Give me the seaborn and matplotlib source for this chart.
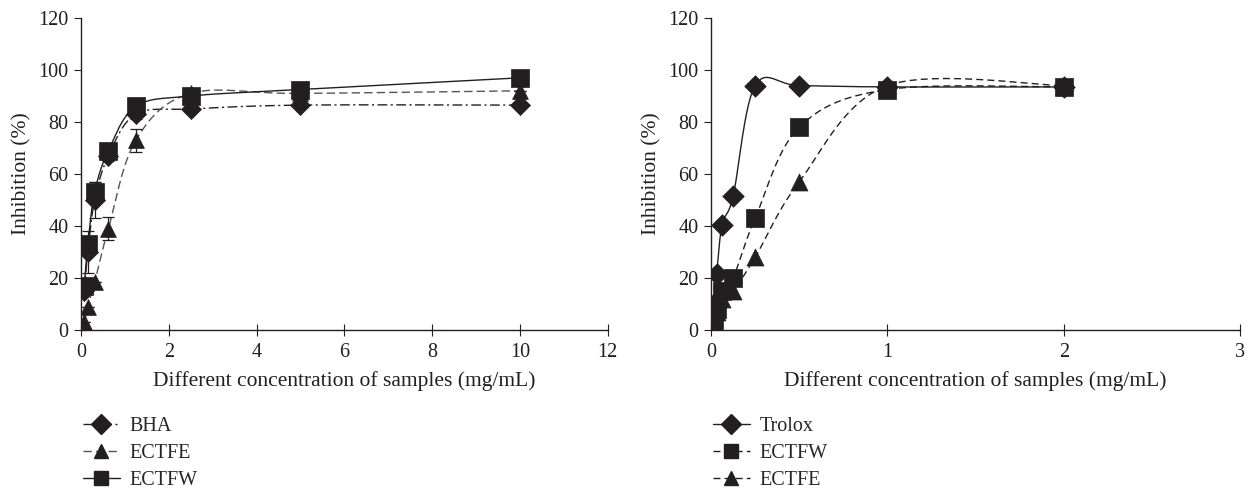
import numpy as np
import pandas as pd
import seaborn as sns
import matplotlib.pyplot as plt
from matplotlib.lines import Line2D

# left panel (BHA reference)
conc_left = [0.078, 0.156, 0.3125, 0.625, 1.25, 2.5, 5, 10]
bha = [15, 30, 50, 67, 83, 85, 86.5, 86.5]
ectfe_left = [3, 9, 18.5, 39, 73, 91, 91, 92]
ectfw_left = [17, 33, 53, 69, 86, 90, 92.5, 97]
bha_err = [0, 8, 7, 2, 2, 0, 0, 0]
ectfe_left_err = [0, 0, 0, 4.5, 4.5, 0, 0, 0]
ectfw_left_err = [0, 3, 4, 2, 1, 0, 0, 0]

# right panel (Trolox reference)
conc_right = [0.0156, 0.03125, 0.0625, 0.125, 0.25, 0.5, 1, 2]
trolox = [10, 21.5, 40.5, 51.5, 94, 94, 93.5, 93.5]
ectfw_right = [4, 8, 15, 20, 43, 78, 92.5, 93.5]
ectfe_right = [3, 7, 12, 15, 28, 57, 94, 94]

sns.set_style("ticks")
plt.rcParams["font.family"] = ["Liberation Serif", "DejaVu Serif"]
plt.rcParams["font.size"] = 14.5

INK = "#231f20"

fig = plt.figure(figsize=(12.53, 4.9), dpi=100)
ax1 = fig.add_axes([0.0646, 0.3265, 0.4204, 0.6367])
ax2 = fig.add_axes([0.5675, 0.3265, 0.4222, 0.6367])


def smooth_line(ax, x, y, **kw):
    # Excel-style smoothed line (Catmull-Rom in screen space)
    pts = ax.transData.transform(np.column_stack([x, y]))
    p = np.vstack([pts[0], pts, pts[-1]])
    t = np.linspace(0, 1, 40)[:, None]
    segs = []
    for i in range(1, len(p) - 2):
        p0, p1, p2, p3 = p[i - 1], p[i], p[i + 1], p[i + 2]
        c1 = p1 + (p2 - p0) / 6
        c2 = p2 - (p3 - p1) / 6
        segs.append((1 - t) ** 3 * p1 + 3 * (1 - t) ** 2 * t * c1
                    + 3 * (1 - t) * t ** 2 * c2 + t ** 3 * p2)
    xy = ax.transData.inverted().transform(np.vstack(segs))
    ax.plot(xy[:, 0], xy[:, 1], zorder=2, **kw)


def style_axes(ax, xmax, xticks):
    ax.set_xlim(0, xmax)
    ax.set_ylim(0, 120)
    ax.set_xticks(xticks)
    ax.set_yticks(range(0, 121, 20))
    sns.despine(ax=ax)
    for s in ["left", "bottom"]:
        ax.spines[s].set_color(INK)
        ax.spines[s].set_linewidth(1.0)
    ax.tick_params(axis="y", direction="out", length=5, colors=INK, pad=4,
                   labelsize=14.5)
    ax.tick_params(axis="x", direction="inout", length=8, colors=INK, pad=5,
                   labelsize=14.5)


style_axes(ax1, 12, range(0, 13, 2))
style_axes(ax2, 3, range(0, 4))

left_series = [
    ("BHA", bha, bha_err, "D", (0, (7, 2.5, 1.5, 2.5)), INK, 105),
    ("ECTFE", ectfe_left, ectfe_left_err, "^", (0, (6, 3)), "#555555", 130),
    ("ECTFW", ectfw_left, ectfw_left_err, "s", "-", INK, 165),
]
right_series = [
    ("Trolox", trolox, "D", "-", 120),
    ("ECTFW", ectfw_right, "s", (0, (5, 3)), 185),
    ("ECTFE", ectfe_right, "^", (0, (5, 3)), 150),
]

# left panel
z = {"ECTFE": 3, "BHA": 4, "ECTFW": 5}
for name, vals, err, mk, ls, lc, size in left_series:
    smooth_line(ax1, conc_left, vals, color=lc, lw=1.0, linestyle=ls)
    ax1.errorbar(conc_left, vals, yerr=err, fmt="none", ecolor=INK,
                 elinewidth=0.9, capsize=4, capthick=0.9, zorder=2.5)
    df = pd.DataFrame({"conc": conc_left, "inh": vals})
    sns.scatterplot(data=df, x="conc", y="inh", marker=mk, s=size, color=INK,
                    edgecolor=INK, linewidth=0.5, ax=ax1, zorder=z[name], legend=False)

# right panel
z = {"ECTFE": 3, "Trolox": 4, "ECTFW": 5}
for name, vals, mk, ls, size in right_series:
    smooth_line(ax2, conc_right, vals, color=INK, lw=1.0, linestyle=ls)
    df = pd.DataFrame({"conc": conc_right, "inh": vals})
    sns.scatterplot(data=df, x="conc", y="inh", marker=mk, s=size, color=INK,
                    edgecolor=INK, linewidth=0.5, ax=ax2, zorder=z[name], legend=False)

for ax in (ax1, ax2):
    ax.set_xlabel("Different concentration of samples (mg/mL)", color=INK,
                  labelpad=7, fontsize=15.5)
    ax.set_ylabel("Inhibition (%)", color=INK, labelpad=5, fontsize=15.5)

h1 = [Line2D([], [], color=lc, linestyle=ls, lw=1.0, marker=mk, markersize=10,
             markerfacecolor=INK, markeredgecolor=INK)
      for _, _, _, mk, ls, lc, _ in left_series]
ax1.legend(h1, [s[0] for s in left_series], loc="upper left",
           bbox_to_anchor=(-0.03, -0.22), frameon=False, handlelength=1.8,
           labelspacing=0.4, handletextpad=0.5, fontsize=14.5)

h2 = [Line2D([], [], color=INK, linestyle=ls, lw=1.0, marker=mk, markersize=10,
             markerfacecolor=INK, markeredgecolor=INK)
      for _, _, mk, ls, _ in right_series]
ax2.legend(h2, [s[0] for s in right_series], loc="upper left",
           bbox_to_anchor=(-0.03, -0.22), frameon=False, handlelength=1.8,
           labelspacing=0.4, handletextpad=0.5, fontsize=14.5)

fig.savefig("out.png", dpi=100)
